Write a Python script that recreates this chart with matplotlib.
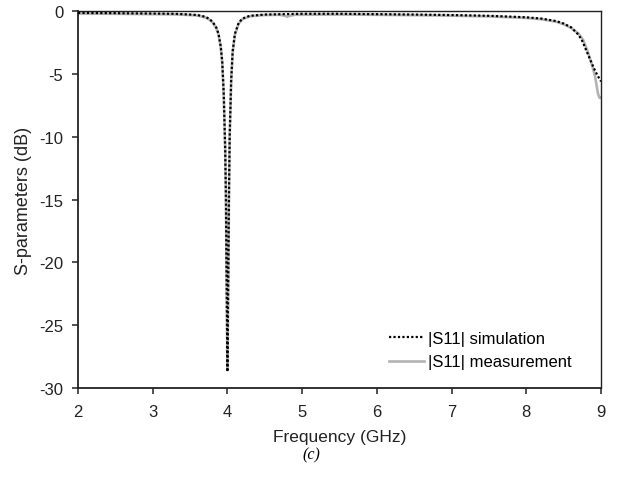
import matplotlib
matplotlib.use("Agg")
import matplotlib.pyplot as plt

plt.rcParams["font.family"] = ["Liberation Sans", "DejaVu Sans"]
plt.rcParams["axes.unicode_minus"] = False

# simulated |S11| (dB)
sim_freq = [2.0, 2.5, 3.0, 3.3, 3.5, 3.6, 3.7, 3.75, 3.8, 3.85, 3.88, 3.91, 3.93,
            3.95, 3.97, 3.98, 3.99, 4.0, 4.01, 4.02, 4.03, 4.05, 4.07, 4.1, 4.15,
            4.2, 4.3, 4.5, 5.0, 5.5, 6.0, 6.5, 7.0, 7.5, 8.0, 8.2, 8.4, 8.5, 8.6,
            8.7, 8.75, 8.8, 8.85, 8.9, 8.95, 9.0]
sim_s11 = [-0.15, -0.17, -0.2, -0.22, -0.28, -0.32, -0.45, -0.6, -0.85, -1.3,
           -1.8, -2.8, -4.0, -6.5, -11.0, -15.0, -22.0, -28.7, -22.0, -15.0,
           -10.0, -5.5, -3.2, -1.8, -0.95, -0.6, -0.38, -0.28, -0.22, -0.22,
           -0.25, -0.28, -0.32, -0.38, -0.5, -0.6, -0.8, -1.0, -1.3, -1.9,
           -2.4, -3.1, -3.8, -4.5, -5.1, -5.6]

# measured |S11| (dB)
meas_freq = [2.0, 2.5, 3.0, 3.3, 3.5, 3.6, 3.7, 3.75, 3.8, 3.85, 3.88, 3.91, 3.93,
             3.95, 3.97, 3.98, 3.99, 4.0, 4.01, 4.02, 4.03, 4.05, 4.07, 4.1, 4.15,
             4.2, 4.3, 4.5, 4.7, 4.77, 4.8, 4.83, 4.9, 5.5, 6.0, 6.5, 7.0, 7.5,
             8.0, 8.2, 8.4, 8.5, 8.6, 8.7, 8.76, 8.82, 8.88, 8.92, 8.96, 8.98, 9.0]
meas_s11 = [-0.2, -0.22, -0.25, -0.27, -0.32, -0.36, -0.5, -0.65, -0.9, -1.35,
            -1.85, -2.85, -4.1, -6.6, -11.0, -15.0, -22.0, -28.5, -22.0, -15.0,
            -10.0, -5.6, -3.3, -1.9, -1.0, -0.65, -0.42, -0.32, -0.3, -0.38,
            -0.45, -0.38, -0.3, -0.28, -0.3, -0.33, -0.37, -0.43, -0.55, -0.65,
            -0.85, -1.05, -1.35, -1.8, -2.3, -3.2, -4.3, -5.2, -6.6, -6.9, -6.9]

x_ticks = [2, 3, 4, 5, 6, 7, 8, 9]
y_ticks = [0, -5, -10, -15, -20, -25, -30]

fig = plt.figure(figsize=(6.19, 4.81), dpi=100)
ax = fig.add_axes([0.126, 0.191, 0.845, 0.784])

ax.plot(meas_freq, meas_s11, color="#b3b3b3", linewidth=1.9,
        label="|S11| measurement", zorder=2)
ax.plot(sim_freq, sim_s11, color="black", linewidth=1.6,
        linestyle=(0, (1, 1)), dash_capstyle="butt",
        label="|S11| simulation", zorder=3)

ax.set_xlim(2, 9)
ax.set_ylim(-30, 0)
ax.set_xticks(x_ticks)
ax.set_yticks(y_ticks)
ax.tick_params(direction="out", length=4.5, width=1.1, colors="#222222",
               labelsize=12, labelcolor="#222222")
ax.tick_params(axis="y", pad=6)
ax.tick_params(axis="x", pad=7)

for spine in ax.spines.values():
    spine.set_color("#222222")
    spine.set_linewidth(1.0)
ax.spines["left"].set_linewidth(1.3)
ax.spines["bottom"].set_linewidth(1.3)

ax.set_xlabel("Frequency (GHz)", fontsize=12.5, color="#222222", labelpad=7)
ax.set_ylabel("S-parameters (dB)", fontsize=13, color="#222222", labelpad=5)

handles, labels = ax.get_legend_handles_labels()
ax.legend(handles[::-1], labels[::-1], loc="lower right",
          bbox_to_anchor=(0.972, 0.01), frameon=False, fontsize=12,
          handlelength=2.1, handletextpad=0.25, labelspacing=0.5)

fig.text(0.503, 0.053, "(c)", fontsize=11.5, family="Liberation Serif",
         style="italic", ha="center", va="center")

fig.savefig("out.png", dpi=100, facecolor="white")
